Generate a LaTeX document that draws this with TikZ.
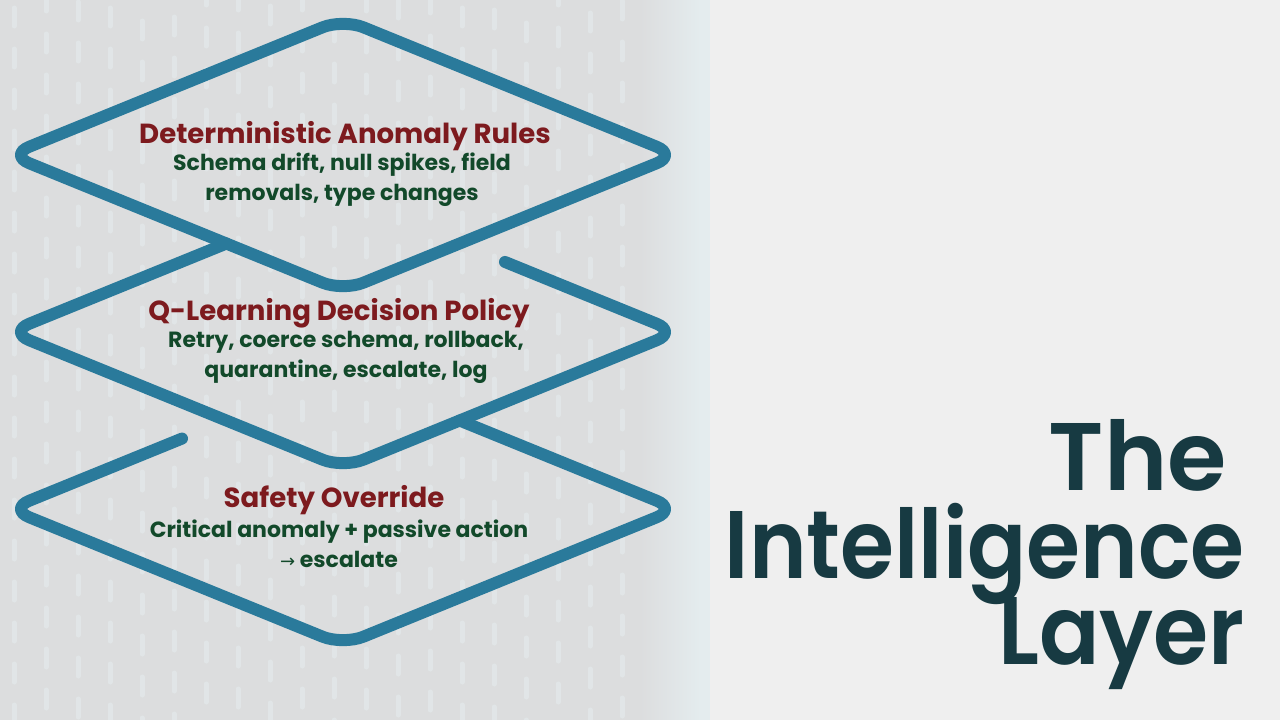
\documentclass[tikz,border=0pt]{standalone}
\usepackage{fontspec}
\usetikzlibrary{calc}
\newfontfamily\popb{Poppins Bold}
\newfontfamily\popsb{Poppins SemiBold}
\newfontfamily\djv{DejaVu Sans}
\definecolor{dblue}{HTML}{2A7A9B}
\definecolor{tred}{HTML}{7D1A1E}
\definecolor{tgreen}{HTML}{12492A}
\definecolor{ttitle}{HTML}{173A42}
\definecolor{bgL}{HTML}{DCDDDE}
\definecolor{bgR}{HTML}{EFEFEF}
\definecolor{band}{HTML}{E4ECEE}
\definecolor{digit}{HTML}{E9F3F5}
\tikzset{
  dia/.style={draw=dblue, line width=12pt, rounded corners=22pt, line cap=round, line join=round},
  ttl/.style={font=\popb\fontsize{27.6}{30}\selectfont, text=tred, inner sep=0pt},
  sub/.style={font=\popb\fontsize{22}{30}\selectfont, text=tgreen, align=center, inner sep=0pt},
  big/.style={font=\popsb\fontsize{96}{87}\selectfont, text=ttitle, inner sep=0pt, anchor=base east},
  rain/.style={draw=digit, line width=5pt, opacity=0.4, line cap=round}
}
\begin{document}
\begin{tikzpicture}[x=1pt,y=-1pt]
\useasboundingbox (0,0) rectangle (1280,720);
% backgrounds
\fill[bgR] (0,0) rectangle (1280,720);
\fill[bgL] (0,0) rectangle (640,720);
\shade[left color=bgL, right color=band] (640,0) rectangle (700,720);
\fill[band] (700,0) rectangle (710,720);
% faint binary rain texture
\pgfmathsetseed{11}
\foreach \i in {0,...,19}{
  \pgfmathrandominteger{\ph}{0}{40}
  \pgfmathsetmacro{\xx}{14+32*\i}
  \draw[rain, dash pattern=on 18pt off 23pt, dash phase=\ph pt] (\xx,0) -- (\xx,720);
}
% diamond geometry
\coordinate (T1) at (343,19);  \coordinate (R1) at (677,155);
\coordinate (B1) at (343,291); \coordinate (L1) at (9,155);
\coordinate (T2) at (343,196); \coordinate (R2) at (677,332);
\coordinate (B2) at (343,468); \coordinate (L2) at (9,332);
\coordinate (T3) at (343,373); \coordinate (R3) at (677,509);
\coordinate (B3) at (343,645); \coordinate (L3) at (9,509);
\coordinate (J1) at (intersection of L1--B1 and L2--T2);
\coordinate (J2) at (intersection of B2--R2 and R3--T3);
\coordinate (S2) at ($(T2)!0.485!(R2)$);
\coordinate (S3) at ($(L3)!0.518!(T3)$);
\coordinate (M1) at ($(L1)!0.5!(T1)$);
% diamonds
\draw[dia] (M1) -- (T1) -- (R1) -- (B1) -- (L1) -- cycle;
\draw[dia] (J1) -- (L2) -- (B2) -- (R2) -- (S2);
\draw[dia] (S3) -- (L3) -- (B3) -- (R3) -- (J2);
% texts
\node[ttl] (t1) at (345,136) {Deterministic Anomaly Rules};
\node[sub] (s1) at (342,180) {Schema drift, null spikes, field\\removals, type changes};
\node[ttl] (t2) at (339,313) {Q-Learning Decision Policy};
\node[sub] (s2) at (346,357) {Retry, coerce schema, rollback,\\quarantine, escalate, log};
\node[ttl] (t3) at (334,500) {Safety Override};
\node[sub] (s3) at (339,544) {Critical anomaly + passive action\\{\djv\fontsize{18}{30}\selectfont →} escalate};
% big title
\node[big] (th) at (1227,490) {The};
\node[big] (ti) at (1245,578) {\smash{\scalebox{0.91}[1]{Intelligence}}};
\node[big] (tl) at (1245,664) {\scalebox{0.93}[1]{Layer}};
\end{tikzpicture}
\end{document}
